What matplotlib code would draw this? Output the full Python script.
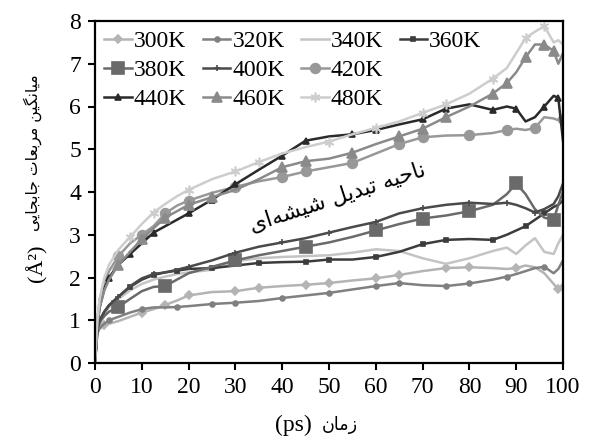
import matplotlib
matplotlib.use("Agg")
import matplotlib.pyplot as plt
from matplotlib.lines import Line2D

# data
time_ps = [0, 0.5, 1, 2, 3, 5, 7.5, 10, 12.5, 15, 17.5, 20, 25, 30, 35, 40, 45, 50, 55,
           60, 65, 70, 75, 80, 85, 88, 90, 92, 94, 96, 98, 99, 100]

msd_300 = [0, 0.7, 0.8, 0.88, 0.92, 0.98, 1.08, 1.18, 1.26, 1.36, 1.46, 1.58, 1.66, 1.68, 1.76,
           1.8, 1.83, 1.87, 1.93, 1.98, 2.06, 2.15, 2.22, 2.24, 2.22, 2.2, 2.22, 2.28, 2.24,
           2.1, 1.85, 1.72, 1.85]
msd_320 = [0, 0.7, 0.82, 0.92, 1.0, 1.08, 1.18, 1.26, 1.3, 1.3, 1.31, 1.33, 1.38, 1.41, 1.45,
           1.52, 1.58, 1.64, 1.72, 1.8, 1.87, 1.82, 1.8, 1.86, 1.95, 2.02, 2.08, 2.15, 2.22,
           2.25, 2.1, 2.2, 2.4]
msd_340 = [0, 0.8, 1.0, 1.15, 1.3, 1.5, 1.7, 1.85, 1.95, 2.02, 2.08, 2.12, 2.18, 2.38, 2.45,
           2.48, 2.5, 2.52, 2.58, 2.66, 2.62, 2.45, 2.32, 2.45, 2.62, 2.7, 2.55, 2.75, 2.92,
           2.6, 2.55, 2.8, 3.0]
msd_360 = [0, 0.8, 1.0, 1.2, 1.35, 1.55, 1.78, 1.95, 2.06, 2.12, 2.16, 2.2, 2.22, 2.28, 2.34,
           2.36, 2.37, 2.42, 2.42, 2.48, 2.6, 2.78, 2.88, 2.9, 2.88, 3.0, 3.1, 3.2, 3.35,
           3.5, 3.65, 3.7, 3.8]
msd_380 = [0, 0.75, 0.95, 1.1, 1.2, 1.31, 1.5, 1.68, 1.78, 1.8, 1.95, 2.1, 2.25, 2.4, 2.52,
           2.62, 2.72, 2.82, 2.95, 3.1, 3.25, 3.38, 3.45, 3.55, 3.7, 3.95, 4.2, 3.95, 3.6,
           3.4, 3.35, 3.7, 4.0]
msd_400 = [0, 0.8, 1.0, 1.2, 1.35, 1.55, 1.8, 1.98, 2.08, 2.12, 2.18, 2.25, 2.4, 2.58, 2.72,
           2.82, 2.92, 3.05, 3.18, 3.3, 3.5, 3.62, 3.7, 3.75, 3.72, 3.75, 3.7, 3.62, 3.52,
           3.6, 3.72, 3.9, 4.2]
msd_420 = [0, 1.0, 1.5, 1.9, 2.15, 2.5, 2.8, 3.0, 3.2, 3.5, 3.68, 3.8, 3.98, 4.12, 4.25,
           4.35, 4.48, 4.58, 4.68, 4.9, 5.12, 5.28, 5.32, 5.33, 5.38, 5.45, 5.48, 5.45, 5.5,
           5.75, 5.72, 5.68, 5.7]
msd_440 = [0, 0.9, 1.3, 1.75, 2.0, 2.3, 2.55, 2.8, 3.05, 3.2, 3.35, 3.5, 3.82, 4.18, 4.52,
           4.85, 5.2, 5.3, 5.35, 5.45, 5.58, 5.7, 5.95, 6.05, 5.92, 6.0, 5.95, 5.65, 5.75,
           6.0, 6.25, 6.2, 5.2]
msd_460 = [0, 0.9, 1.3, 1.7, 1.95, 2.3, 2.6, 2.9, 3.15, 3.4, 3.55, 3.7, 3.88, 4.05, 4.3,
           4.58, 4.72, 4.78, 4.92, 5.12, 5.3, 5.48, 5.75, 6.0, 6.3, 6.55, 6.8, 7.15, 7.45,
           7.45, 7.3, 7.0, 7.25]
msd_480 = [0, 1.0, 1.5, 2.0, 2.3, 2.65, 2.95, 3.25, 3.52, 3.72, 3.9, 4.05, 4.3, 4.48, 4.7,
           4.9, 5.05, 5.18, 5.35, 5.5, 5.65, 5.85, 6.05, 6.3, 6.65, 6.9, 7.25, 7.6, 7.75,
           7.88, 7.5, 7.55, 7.45]

labels = ['300K', '320K', '340K', '360K', '380K', '400K', '420K', '440K', '460K', '480K']
series = [msd_300, msd_320, msd_340, msd_360, msd_380, msd_400, msd_420, msd_440, msd_460, msd_480]

# style: colour, marker, marker size, marker positions (indices into time_ps)
styles = [
    ('#b4b4b4', 'D', 4.5, [3, 7, 9, 11, 13, 14, 16, 17, 19, 20, 22, 23, 26, 31]),
    ('#808080', 'o', 3.5, [4, 7, 10, 12, 13, 15, 17, 19, 20, 22, 23, 25, 29]),
    ('#c4c4c4', None, 0, None),
    ('#3c3c3c', 's', 3.5, [6, 8, 10, 12, 14, 16, 17, 19, 21, 22, 24, 27, 29]),
    ('#6a6a6a', 's', 8, [5, 9, 13, 16, 19, 21, 23, 26, 30]),
    ('#4a4a4a', '+', 4, [5, 8, 11, 13, 15, 17, 19, 21, 23, 25, 28]),
    ('#989898', 'o', 7, [5, 7, 9, 11, 13, 15, 16, 18, 20, 21, 23, 25, 28, 32]),
    ('#2a2a2a', '^', 4, [4, 6, 8, 11, 12, 13, 15, 16, 18, 19, 21, 22, 24, 26, 29, 31]),
    ('#8a8a8a', '^', 7, [5, 7, 9, 11, 12, 15, 16, 18, 20, 21, 22, 24, 25, 27, 29, 30]),
    ('#cdcdcd', (6, 2, 0), 7, [6, 8, 11, 13, 14, 17, 19, 21, 22, 24, 27, 29]),
]

# simple Persian shaping (matplotlib does no RTL / joining by itself)
FORMS = {  # isolated, final, initial, medial
    'ا': ('\uFE8D', '\uFE8E', None, None),
    'د': ('\uFEA9', '\uFEAA', None, None),
    'ر': ('\uFEAD', '\uFEAE', None, None),
    'ز': ('\uFEAF', '\uFEB0', None, None),
    'ن': ('\uFEE5', '\uFEE6', '\uFEE7', '\uFEE8'),
    'ح': ('\uFEA1', '\uFEA2', '\uFEA3', '\uFEA4'),
    'ی': ('\uFEEF', '\uFEF0', '\uFEF3', '\uFEF4'),
    'ه': ('\uFEE9', '\uFEEA', '\uFEEB', '\uFEEC'),
    'ت': ('\uFE95', '\uFE96', '\uFE97', '\uFE98'),
    'ب': ('\uFE8F', '\uFE90', '\uFE91', '\uFE92'),
    'ل': ('\uFEDD', '\uFEDE', '\uFEDF', '\uFEE0'),
    'ش': ('\uFEB5', '\uFEB6', '\uFEB7', '\uFEB8'),
    'م': ('\uFEE1', '\uFEE2', '\uFEE3', '\uFEE4'),
    'گ': ('\uFB92', '\uFB93', '\uFB94', '\uFB95'),
    'ع': ('\uFEC9', '\uFECA', '\uFECB', '\uFECC'),
    'ج': ('\uFE9D', '\uFE9E', '\uFE9F', '\uFEA0'),
}


def shape_fa(text):
    out = []
    for i, c in enumerate(text):
        if c not in FORMS:
            if c != '\u200c':
                out.append(c)
            continue
        prev = text[i - 1] if i > 0 else ''
        nxt = text[i + 1] if i + 1 < len(text) else ''
        join_prev = prev in FORMS and FORMS[prev][2] is not None
        join_next = FORMS[c][2] is not None and nxt in FORMS
        iso, fin, ini, med = FORMS[c]
        if join_prev and join_next:
            out.append(med)
        elif join_prev:
            out.append(fin)
        elif join_next:
            out.append(ini)
        else:
            out.append(iso)
    return ''.join(out)[::-1]


serif = ['Liberation Serif', 'DejaVu Sans']
W, H = 589, 443

fig = plt.figure(figsize=(W / 100, H / 100), dpi=100)
ax = fig.add_subplot(1, 1, 1)

lines = []
for vals, lab, (col, mk, ms, every) in zip(series, labels, styles):
    ln, = ax.plot(time_ps, vals, color=col, lw=1.8, marker=mk, ms=ms,
                  markevery=every, mec=col, mfc=col, mew=1.2, label=lab)
    lines.append(ln)

blank = Line2D([], [], alpha=0)
order = [lines[0], lines[4], lines[7], lines[1], lines[5], lines[8],
         lines[2], lines[6], lines[9], lines[3], blank, blank]
order_labels = ['300K', '380K', '440K', '320K', '400K', '460K',
                '340K', '420K', '480K', '360K', '', '']
ax.legend(order, order_labels, loc='upper left', ncol=4, frameon=False,
          prop={'family': serif, 'size': 17}, handlelength=1.15,
          handletextpad=0.1, columnspacing=0.7, labelspacing=0.32,
          borderaxespad=0.15, borderpad=0.25, bbox_to_anchor=(0, 1.0))

ax.set_xlim(0, 100)
ax.set_ylim(0, 8)
ax.set_xticks(range(0, 101, 10))
ax.set_yticks(range(0, 9))
ax.tick_params(direction='out', length=5, width=1.5, labelsize=17, pad=5)
for lab in ax.get_xticklabels() + ax.get_yticklabels():
    lab.set_family(serif)
for sp in ax.spines.values():
    sp.set_linewidth(1.6)

plt.subplots_adjust(left=95 / W, right=563 / W, top=1 - 21 / H, bottom=1 - 363 / H)

# axis titles: Latin part in serif, Persian part in DejaVu Sans
ylab_fa = fig.text(33 / W, 1 - 153 / H, shape_fa('میانگین مربعات جابجایی'), rotation=90,
                   ha='center', va='center', family='DejaVu Sans', fontsize=10)
fig.text(37 / W, 1 - 263 / H, '(Å²)', rotation=90, ha='center', va='center',
         family=serif, fontsize=16)
fig.text(293 / W, 1 - 425 / H, '(ps)', ha='center', va='center', family=serif, fontsize=17)
xlab_fa = fig.text(340 / W, 1 - 425 / H, shape_fa('زمان'), ha='center', va='center',
                   family='DejaVu Sans', fontsize=12)

note = ax.text(51.8, 3.86, shape_fa('ناحیه تبدیل شیشه\u200cای'), rotation=18,
               ha='center', va='center', fontsize=15, family='DejaVu Sans',
               rotation_mode='anchor')

# scale the Persian texts so their length matches the reference
fig.canvas.draw()
for t, target, use_h in [(ylab_fa, 158, True), (xlab_fa, 36, False), (note, 183, False)]:
    bb = t.get_window_extent()
    size = bb.height if use_h else bb.width
    t.set_fontsize(t.get_fontsize() * target / size)

fig.savefig('out.png', dpi=100)
